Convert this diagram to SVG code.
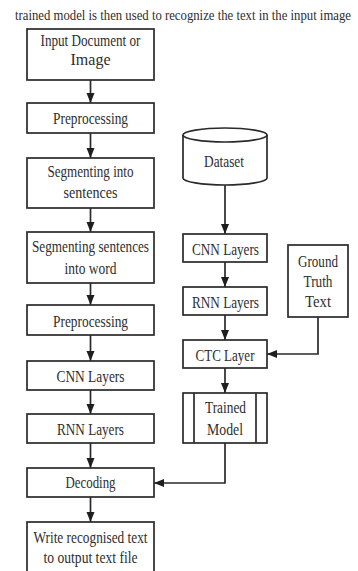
<svg xmlns="http://www.w3.org/2000/svg" width="358" height="571" viewBox="0 0 358 571">
<style>
.box{fill:#fff;stroke:#2a2a2a;stroke-width:1.7}
.t{font-family:"Liberation Serif","Times New Roman",serif;font-size:17px;fill:#2e2e2e;text-anchor:middle}
.ttl{font-family:"Liberation Serif","Times New Roman",serif;font-size:15px;fill:#2e2e2e}
.c{fill:none;stroke:#2a2a2a;stroke-width:1.7}
</style>
<defs>
<marker id="ah" markerUnits="userSpaceOnUse" markerWidth="10" markerHeight="10" viewBox="0 0 10 10" refX="10" refY="5" orient="auto">
<path d="M0,1 L10,5 L0,9 z" fill="#1e1e1e"/>
</marker>
</defs>
<rect width="358" height="571" fill="#fff"/>
<text class="ttl" x="15" y="20" textLength="336" lengthAdjust="spacingAndGlyphs">trained model is then used to recognize the text in the input image</text>

<g id="connectors">
<line class="c" x1="90.5" y1="80" x2="90.5" y2="103" marker-end="url(#ah)"/>
<line class="c" x1="90.5" y1="133" x2="90.5" y2="158" marker-end="url(#ah)"/>
<line class="c" x1="90.5" y1="208" x2="90.5" y2="232" marker-end="url(#ah)"/>
<line class="c" x1="90.5" y1="283" x2="90.5" y2="305" marker-end="url(#ah)"/>
<line class="c" x1="90.5" y1="335" x2="90.5" y2="361" marker-end="url(#ah)"/>
<line class="c" x1="90.5" y1="390" x2="90.5" y2="414" marker-end="url(#ah)"/>
<line class="c" x1="90.5" y1="443" x2="90.5" y2="468" marker-end="url(#ah)"/>
<line class="c" x1="90.5" y1="497" x2="90.5" y2="522" marker-end="url(#ah)"/>
<line class="c" x1="225" y1="185" x2="225" y2="234" marker-end="url(#ah)"/>
<line class="c" x1="225" y1="262" x2="225" y2="287" marker-end="url(#ah)"/>
<line class="c" x1="225" y1="315" x2="225" y2="340" marker-end="url(#ah)"/>
<line class="c" x1="225" y1="368" x2="225" y2="393" marker-end="url(#ah)"/>
<polyline class="c" points="318,317 318,354 267,354" marker-end="url(#ah)"/>
<polyline class="c" points="225,443 225,483 154,483" marker-end="url(#ah)"/>
</g>

<g id="input">
<rect class="box" x="27" y="29" width="127" height="51"/>
<text class="t" x="90.5" y="46" textLength="100" lengthAdjust="spacingAndGlyphs">Input Document or</text>
<text class="t" x="90.5" y="65" textLength="40" lengthAdjust="spacingAndGlyphs">Image</text>
</g>
<g id="preprocessing1">
<rect class="box" x="27" y="103" width="127" height="30"/>
<text class="t" x="90.5" y="124" textLength="75" lengthAdjust="spacingAndGlyphs">Preprocessing</text>
</g>
<g id="seg-sentences">
<rect class="box" x="27" y="158" width="127" height="50"/>
<text class="t" x="90.5" y="177" textLength="86" lengthAdjust="spacingAndGlyphs">Segmenting into</text>
<text class="t" x="90.5" y="198" textLength="54" lengthAdjust="spacingAndGlyphs">sentences</text>
</g>
<g id="seg-words">
<rect class="box" x="27" y="232" width="127" height="51"/>
<text class="t" x="90.5" y="252" textLength="117" lengthAdjust="spacingAndGlyphs">Segmenting sentences</text>
<text class="t" x="90.5" y="274" textLength="52" lengthAdjust="spacingAndGlyphs">into word</text>
</g>
<g id="preprocessing2">
<rect class="box" x="27" y="305" width="127" height="30"/>
<text class="t" x="90.5" y="327" textLength="75" lengthAdjust="spacingAndGlyphs">Preprocessing</text>
</g>
<g id="cnn-left">
<rect class="box" x="27" y="361" width="127" height="29"/>
<text class="t" x="90.5" y="382" textLength="68" lengthAdjust="spacingAndGlyphs">CNN Layers</text>
</g>
<g id="rnn-left">
<rect class="box" x="27" y="414" width="127" height="29"/>
<text class="t" x="90.5" y="435" textLength="67" lengthAdjust="spacingAndGlyphs">RNN Layers</text>
</g>
<g id="decoding">
<rect class="box" x="27" y="468" width="127" height="29"/>
<text class="t" x="90.5" y="488" textLength="50" lengthAdjust="spacingAndGlyphs">Decoding</text>
</g>
<g id="write">
<rect class="box" x="27" y="522" width="127" height="52"/>
<text class="t" x="90.5" y="543" textLength="114" lengthAdjust="spacingAndGlyphs">Write recognised text</text>
<text class="t" x="90.5" y="563" textLength="94" lengthAdjust="spacingAndGlyphs">to output text file</text>
</g>

<g id="dataset">
<path class="box" d="M183,135 L183,178 A42,7 0 0 0 267,178 L267,135"/>
<ellipse class="box" cx="225" cy="135" rx="42" ry="7"/>
<text class="t" x="224" y="167" textLength="40" lengthAdjust="spacingAndGlyphs">Dataset</text>
</g>
<g id="cnn-right">
<rect class="box" x="183" y="234" width="84" height="28"/>
<text class="t" x="225.5" y="255" textLength="67" lengthAdjust="spacingAndGlyphs">CNN Layers</text>
</g>
<g id="rnn-right">
<rect class="box" x="183" y="287" width="84" height="28"/>
<text class="t" x="225.5" y="308" textLength="67" lengthAdjust="spacingAndGlyphs">RNN Layers</text>
</g>
<g id="ctc">
<rect class="box" x="183" y="340" width="84" height="28"/>
<text class="t" x="225" y="361" textLength="59" lengthAdjust="spacingAndGlyphs">CTC Layer</text>
</g>
<g id="trained-model">
<rect class="box" x="183" y="393" width="84" height="50"/>
<line class="c" x1="194" y1="393" x2="194" y2="443"/>
<line class="c" x1="256" y1="393" x2="256" y2="443"/>
<text class="t" x="225.5" y="413" textLength="41" lengthAdjust="spacingAndGlyphs">Trained</text>
<text class="t" x="225" y="435" textLength="36" lengthAdjust="spacingAndGlyphs">Model</text>
</g>
<g id="ground-truth">
<rect class="box" x="288" y="245" width="60" height="72"/>
<text class="t" x="318" y="267" textLength="40" lengthAdjust="spacingAndGlyphs">Ground</text>
<text class="t" x="318" y="287" textLength="29" lengthAdjust="spacingAndGlyphs">Truth</text>
<text class="t" x="318" y="307" textLength="26" lengthAdjust="spacingAndGlyphs">Text</text>
</g>
</svg>
